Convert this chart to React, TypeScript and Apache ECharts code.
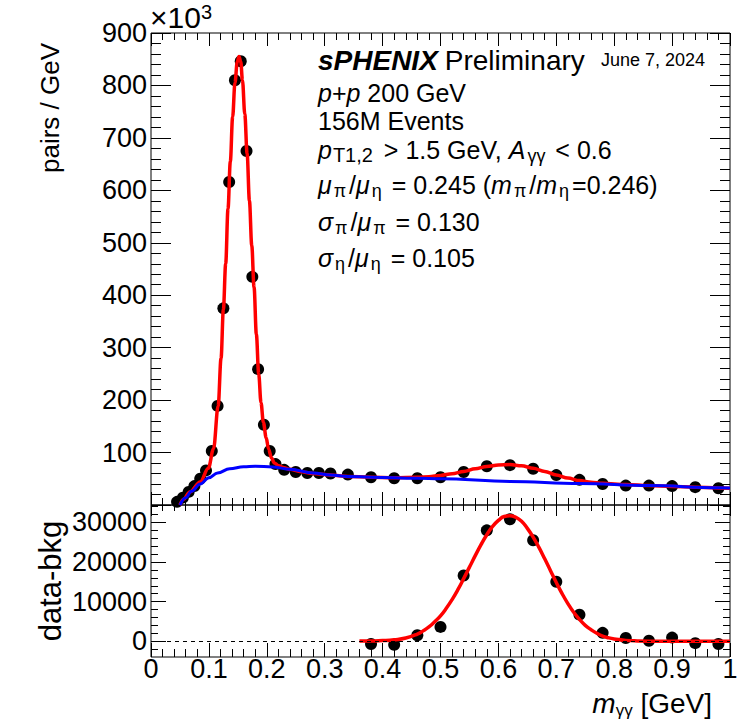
import React, { useEffect, useRef } from 'react';
import * as echarts from 'echarts';

// ---------- data (top panel, pairs / GeV in units of 10^3) ----------
const massTop = [0.045, 0.055, 0.065, 0.075, 0.085, 0.095, 0.105, 0.115, 0.125, 0.135, 0.145, 0.155, 0.165, 0.175, 0.185, 0.195, 0.205, 0.215, 0.23, 0.25, 0.27, 0.29, 0.31, 0.34, 0.38, 0.42, 0.46, 0.50, 0.54, 0.58, 0.62, 0.66, 0.70, 0.74, 0.78, 0.82, 0.86, 0.90, 0.94, 0.98];
const pairsTop = [6, 14, 25, 36, 50, 66, 103, 189, 375, 616, 810, 846, 675, 435, 259, 153, 103, 78, 67, 63, 61, 61, 60, 58, 53, 51, 51, 53, 63, 74, 76, 69, 57, 48, 40, 37, 37, 36, 34, 32];

// total fit (red)
const fitTotalMass = [0.05, 0.056, 0.067, 0.085, 0.099, 0.108, 0.116, 0.121, 0.125, 0.129, 0.133, 0.137, 0.141, 0.145, 0.149, 0.152, 0.155, 0.158, 0.162, 0.166, 0.170, 0.174, 0.178, 0.182, 0.186, 0.190, 0.194, 0.199, 0.203, 0.208, 0.213, 0.22, 0.23, 0.24, 0.257, 0.28, 0.31, 0.34, 0.38, 0.42, 0.46, 0.48, 0.50, 0.52, 0.54, 0.56, 0.58, 0.60, 0.62, 0.64, 0.66, 0.68, 0.70, 0.72, 0.74, 0.76, 0.78, 0.82, 0.86, 0.90, 0.94, 0.98, 1.0];
const fitTotalPairs = [0, 11, 25, 44, 70, 107, 189, 280, 373, 460, 565, 655, 740, 805, 845, 855, 845, 810, 745, 670, 580, 495, 415, 325, 250, 195, 158, 128, 107, 90, 80, 75, 71, 68, 64, 60, 57, 54.5, 53, 51.8, 52.8, 54, 56.4, 59.7, 64, 69, 73.5, 76.5, 77, 74.8, 70, 64, 57.3, 51.3, 46.5, 43.4, 41.3, 39.2, 37, 35.5, 34, 32.5, 32];

// background fit (blue)
const fitBkgMass = [0.05, 0.06, 0.07, 0.085, 0.10, 0.115, 0.136, 0.16, 0.18, 0.21, 0.24, 0.28, 0.31, 0.34, 0.38, 0.46, 0.50, 0.62, 0.74, 0.86, 0.98, 1.0];
const fitBkgPairs = [0, 14, 26, 40, 52, 61, 69, 73, 74, 72.5, 68, 61, 57, 54.5, 53, 51, 50, 45, 41, 37, 33, 32.5];

// ---------- data (bottom panel, data - bkg) ----------
const massRes = [0.38, 0.42, 0.46, 0.50, 0.54, 0.58, 0.62, 0.66, 0.70, 0.74, 0.78, 0.82, 0.86, 0.90, 0.94, 0.98];
const dataBkg = [-700, -900, 1500, 3600, 16600, 28000, 30800, 25500, 15000, 6700, 2100, 800, 100, 900, -500, -700];
const fitResMass = [0.36, 0.38, 0.40, 0.42, 0.44, 0.46, 0.47, 0.48, 0.49, 0.50, 0.51, 0.52, 0.53, 0.54, 0.55, 0.56, 0.57, 0.58, 0.59, 0.60, 0.61, 0.62, 0.63, 0.64, 0.65, 0.66, 0.67, 0.68, 0.69, 0.70, 0.71, 0.72, 0.73, 0.74, 0.75, 0.76, 0.77, 0.78, 0.79, 0.80, 0.82, 0.84, 0.88, 1.0];
const fitResVals = [15, 50, 140, 350, 800, 1800, 2600, 3600, 4900, 6400, 8300, 10500, 13000, 15800, 18700, 21600, 24400, 26900, 29000, 30500, 31500, 31700, 31300, 30300, 28500, 26300, 23700, 20800, 17800, 14800, 12000, 9500, 7300, 5500, 4000, 2900, 2000, 1300, 850, 550, 200, 70, 0, 0];

// ---------- tick values ----------
const resMajorTicks = [0, 10000, 20000, 30000];
const resMinorTicks = [-2000, 2000, 4000, 6000, 8000, 12000, 14000, 16000, 18000, 22000, 24000, 26000, 28000, 32000, 34000];

const FONT = "'Liberation Sans', Arial, Helvetica, sans-serif";
const NB = '\u00A0';

function zip(xs: number[], ys: number[]) {
  return xs.map((x, i) => [x, ys[i]]);
}

export default function App() {
  const ref = useRef<HTMLDivElement>(null);

  useEffect(() => {
    if (!ref.current) return;
    const chart = echarts.init(ref.current, undefined, { renderer: 'svg' });

    const L = 151, W = 579;
    const top0 = 33, h0 = 472;
    const top1 = 505, h1 = 152;

    const tickLine = { color: '#000', width: 1 };

    const xBase = (gridIndex: number, position: string, major: number, minor: number, labels: boolean) => ({
      type: 'value',
      gridIndex,
      position,
      min: 0,
      max: 1,
      interval: 0.1,
      axisLine: { show: false, onZero: false },
      splitLine: { show: false },
      axisTick: { show: true, inside: true, length: major, lineStyle: tickLine },
      minorTick: { show: true, splitNumber: 5, length: minor, lineStyle: tickLine },
      axisLabel: {
        show: labels,
        inside: false,
        margin: -2,
        fontSize: 27,
        fontFamily: FONT,
        color: '#000',
        showMinLabel: true,
        showMaxLabel: true,
        formatter: (v: number) => (Math.abs(v - 1) < 1e-9 ? '1' : Math.abs(v) < 1e-9 ? '0' : v.toFixed(1)),
      },
    });

    const yTop = (position: string, labels: boolean) => ({
      type: 'value',
      gridIndex: 0,
      position,
      min: 0,
      max: 900,
      interval: 100,
      axisLine: { show: false, onZero: false },
      splitLine: { show: false },
      axisTick: { show: true, inside: true, length: 20, lineStyle: tickLine },
      minorTick: { show: true, splitNumber: 5, length: 10, lineStyle: tickLine },
      axisLabel: {
        show: labels,
        margin: 4,
        fontSize: 27,
        fontFamily: FONT,
        color: '#000',
        formatter: (v: number) => (v === 0 ? '' : String(v)),
      },
    });

    const yRes = (position: string, values: number[], len: number, labels: boolean) => ({
      type: 'value',
      gridIndex: 1,
      position,
      min: -4000,
      max: 34400,
      axisLine: { show: false, onZero: false },
      splitLine: { show: false },
      axisTick: { show: true, inside: true, length: len, lineStyle: tickLine, customValues: values },
      axisLabel: {
        show: labels,
        margin: 4,
        fontSize: 27,
        fontFamily: FONT,
        color: '#000',
        customValues: values,
        formatter: (v: number) => String(v),
      },
    });

    const base = { fontFamily: FONT, fill: '#000' };
    const rich = {
      i: { fontStyle: 'italic', fontSize: 25, fontFamily: FONT, lineHeight: 30 },
      s: { fontSize: 18, fontFamily: FONT, verticalAlign: 'bottom', lineHeight: 4, padding: [0, 3, 0, 2] },
      sT: { fontSize: 20, fontFamily: FONT, verticalAlign: 'bottom', lineHeight: 2, padding: [0, 4, 0, 1] },
      bi: { fontStyle: 'italic', fontWeight: 'bold', fontSize: 28, fontFamily: FONT, lineHeight: 30 },
      pr: { fontSize: 28, fontFamily: FONT, lineHeight: 30 },
      sup: { fontSize: 20, fontFamily: FONT, verticalAlign: 'top', lineHeight: 10 },
    };
    const textLine = (y: number, text: string, x = 318, size = 25) => ({
      type: 'text',
      x,
      y,
      style: { ...base, text, fontSize: size, lineHeight: 30, verticalAlign: 'middle', align: 'left', rich },
    });

    const option: any = {
      animation: false,
      backgroundColor: '#fff',
      grid: [
        { left: L, top: top0, width: W, height: h0, show: true, borderColor: '#000', borderWidth: 1, backgroundColor: 'transparent' },
        { left: L, top: top1, width: W, height: h1, show: true, borderColor: '#000', borderWidth: 1, backgroundColor: 'transparent' },
      ],
      xAxis: [
        xBase(0, 'bottom', 13, 7, false),
        xBase(0, 'top', 13, 7, false),
        xBase(1, 'bottom', 14, 8, true),
        xBase(1, 'top', 11, 6, false),
      ],
      yAxis: [
        yTop('left', true),
        yTop('right', false),
        yRes('left', resMajorTicks, 15, true),
        yRes('left', resMinorTicks, 7, false),
        yRes('right', resMajorTicks, 15, false),
        yRes('right', resMinorTicks, 7, false),
      ],
      series: [
        {
          type: 'scatter',
          xAxisIndex: 0,
          yAxisIndex: 0,
          data: zip(massTop, pairsTop),
          symbol: 'circle',
          symbolSize: 12,
          itemStyle: { color: '#000', opacity: 1 },
          z: 2,
        },
        {
          type: 'line',
          xAxisIndex: 0,
          yAxisIndex: 0,
          data: zip(fitTotalMass, fitTotalPairs),
          showSymbol: false,
          symbol: 'none',
          smooth: 0.35,
          smoothMonotone: 'x',
          lineStyle: { color: '#ff0000', width: 3.5 },
          z: 3,
        },
        {
          type: 'line',
          xAxisIndex: 0,
          yAxisIndex: 0,
          data: zip(fitBkgMass, fitBkgPairs),
          showSymbol: false,
          symbol: 'none',
          smooth: 0.4,
          smoothMonotone: 'x',
          lineStyle: { color: '#0000ff', width: 3 },
          z: 4,
        },
        {
          type: 'scatter',
          xAxisIndex: 2,
          yAxisIndex: 2,
          data: zip(massRes, dataBkg),
          symbol: 'circle',
          symbolSize: 12,
          itemStyle: { color: '#000', opacity: 1 },
          z: 2,
          markLine: {
            silent: true,
            symbol: ['none', 'none'],
            label: { show: false },
            lineStyle: { color: '#000', width: 1, type: [4, 4] },
            data: [{ yAxis: 0 }],
          },
        },
        {
          type: 'line',
          xAxisIndex: 2,
          yAxisIndex: 2,
          data: zip(fitResMass, fitResVals),
          showSymbol: false,
          symbol: 'none',
          smooth: 0.5,
          lineStyle: { color: '#ff0000', width: 3.5 },
          z: 3,
        },
      ],
      graphic: [
        {
          type: 'text',
          x: 50,
          y: 108,
          rotation: Math.PI / 2,
          style: { ...base, text: 'pairs / GeV', fontSize: 26, align: 'center', verticalAlign: 'middle' },
        },
        {
          type: 'text',
          x: 50,
          y: 581,
          rotation: Math.PI / 2,
          style: { ...base, text: 'data-bkg', fontSize: 31, align: 'center', verticalAlign: 'middle' },
        },
        {
          type: 'text',
          x: 150,
          y: 17,
          style: { ...base, text: '×10{sup|3}', fontSize: 30, lineHeight: 30, align: 'left', verticalAlign: 'middle', rich },
        },
        {
          type: 'text',
          x: 712,
          y: 703,
          style: {
            ...base,
            text: '{mi|m}{ms|γγ} [GeV]',
            fontSize: 28,
            lineHeight: 32,
            align: 'right',
            verticalAlign: 'middle',
            rich: {
              mi: { fontStyle: 'italic', fontSize: 28, fontFamily: FONT, lineHeight: 32 },
              ms: { fontSize: 17, fontFamily: FONT, verticalAlign: 'bottom', lineHeight: 8 },
            },
          },
        },
        textLine(60, '{bi|sPHENIX} {pr|Preliminary}'),
        {
          type: 'text',
          x: 601,
          y: 60,
          style: { ...base, text: 'June 7, 2024', fontSize: 18, align: 'left', verticalAlign: 'middle' },
        },
        textLine(93, '{i|p}+{i|p} 200 GeV'),
        textLine(121, '156M Events'),
        textLine(150, `{i|p}{sT|T1,2}${NB}>${NB}1.5 GeV, {i|A}{s|γγ}${NB}<${NB}0.6`),
        textLine(185, '{i|μ}{s|π}/{i|μ}{s|η} = 0.245 ({i|m}{s|π}/{i|m}{s|η}=0.246)'),
        textLine(222, '{i|σ}{s|π}/{i|μ}{s|π} = 0.130'),
        textLine(258, '{i|σ}{s|η}/{i|μ}{s|η} = 0.105'),
      ],
    };

    chart.setOption(option);
    return () => chart.dispose();
  }, []);

  return (
    <div
      ref={ref}
      style={{ position: 'absolute', left: 0, top: 0, width: 753, height: 724, background: '#fff' }}
    />
  );
}
